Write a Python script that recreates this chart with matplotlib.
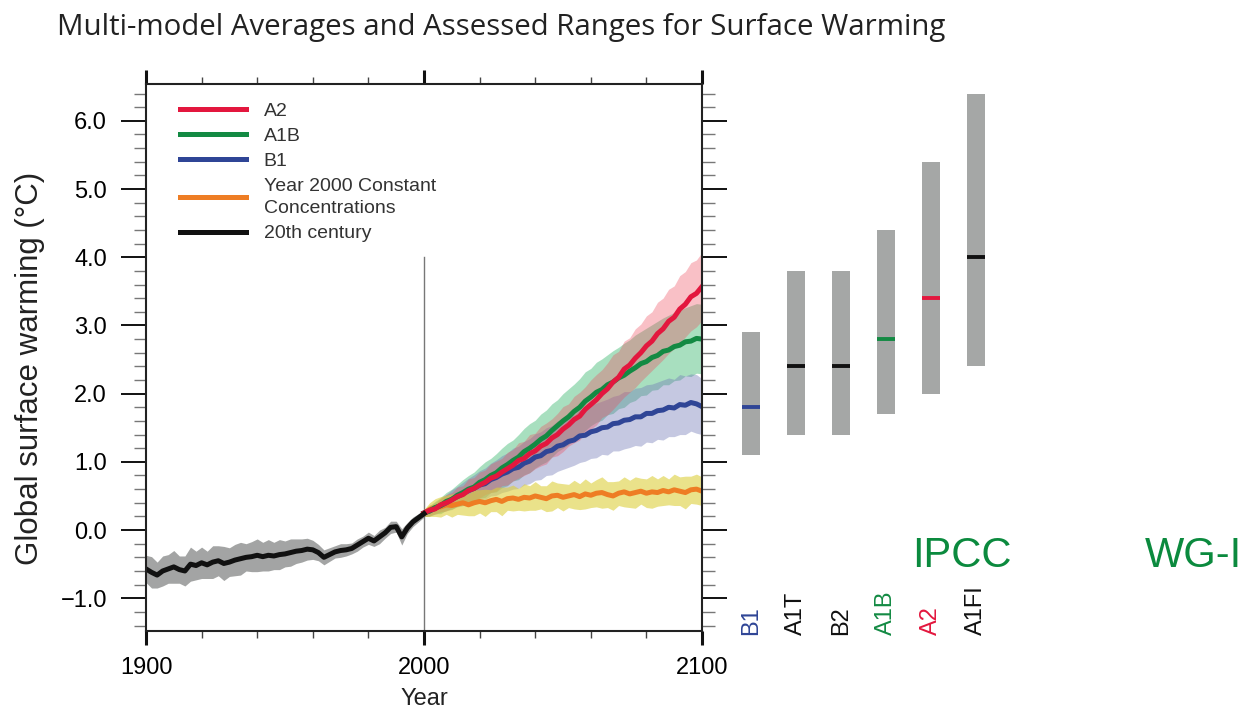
import numpy as np
import matplotlib
matplotlib.use("Agg")
import matplotlib.pyplot as plt
from matplotlib.ticker import MultipleLocator, FuncFormatter
import matplotlib.transforms as mtransforms

plt.rcParams['font.family'] = ['Liberation Sans', 'DejaVu Sans']

# ---- 20th century (every 2 years) ----
hist_years = list(range(1900, 2001, 2))
hist_mean = [-0.57, -0.62, -0.66, -0.60, -0.57, -0.54, -0.58, -0.60, -0.50, -0.52,
             -0.48, -0.51, -0.47, -0.45, -0.49, -0.47, -0.44, -0.42, -0.40, -0.39,
             -0.37, -0.39, -0.37, -0.38, -0.36, -0.35, -0.33, -0.31, -0.30, -0.28,
             -0.29, -0.33, -0.40, -0.36, -0.32, -0.30, -0.29, -0.27, -0.22, -0.17,
             -0.12, -0.16, -0.10, -0.04, 0.04, 0.05, -0.10, 0.03, 0.12, 0.18, 0.24]
hist_spread = [0.20, 0.23, 0.19, 0.22, 0.21, 0.24, 0.20, 0.22, 0.25, 0.21,
               0.23, 0.20, 0.24, 0.22, 0.25, 0.21, 0.23, 0.24, 0.20, 0.22,
               0.24, 0.21, 0.23, 0.20, 0.22, 0.19, 0.20, 0.18, 0.17, 0.16,
               0.14, 0.12, 0.11, 0.10, 0.09, 0.10, 0.09, 0.08, 0.09, 0.08,
               0.09, 0.08, 0.10, 0.08, 0.09, 0.08, 0.12, 0.08, 0.07, 0.06, 0.05]

# ---- projections 2000-2100 (every 2 years) ----
proj_years = list(range(2000, 2101, 2))
a2_mean = [0.25, 0.29, 0.31, 0.37, 0.40, 0.44, 0.49, 0.52, 0.58, 0.61,
           0.66, 0.70, 0.76, 0.79, 0.85, 0.90, 0.95, 1.02, 1.05, 1.12,
           1.16, 1.23, 1.27, 1.35, 1.40, 1.48, 1.54, 1.62, 1.67, 1.77,
           1.84, 1.91, 2.00, 2.07, 2.17, 2.24, 2.36, 2.42, 2.52, 2.60,
           2.70, 2.77, 2.88, 2.95, 3.06, 3.12, 3.24, 3.31, 3.42, 3.47, 3.57]
a2_spread = [0.05, 0.08, 0.07, 0.10, 0.12, 0.11, 0.14, 0.13, 0.17, 0.16,
             0.19, 0.18, 0.21, 0.22, 0.20, 0.24, 0.23, 0.26, 0.25, 0.28,
             0.26, 0.29, 0.30, 0.28, 0.31, 0.33, 0.31, 0.34, 0.35, 0.33,
             0.36, 0.37, 0.35, 0.38, 0.40, 0.38, 0.41, 0.40, 0.43, 0.42,
             0.44, 0.43, 0.46, 0.45, 0.47, 0.46, 0.49, 0.48, 0.50, 0.49, 0.50]
a1b_mean = [0.25, 0.28, 0.33, 0.36, 0.42, 0.45, 0.51, 0.55, 0.60, 0.63,
            0.70, 0.74, 0.80, 0.84, 0.91, 0.96, 1.02, 1.07, 1.15, 1.20,
            1.26, 1.33, 1.38, 1.46, 1.53, 1.60, 1.66, 1.74, 1.80, 1.89,
            1.95, 2.02, 2.06, 2.13, 2.17, 2.23, 2.27, 2.33, 2.38, 2.44,
            2.47, 2.53, 2.56, 2.62, 2.64, 2.69, 2.71, 2.76, 2.77, 2.81, 2.80]
a1b_spread = [0.05, 0.08, 0.09, 0.12, 0.13, 0.15, 0.16, 0.19, 0.20, 0.22,
              0.23, 0.26, 0.25, 0.28, 0.29, 0.31, 0.30, 0.33, 0.34, 0.36,
              0.35, 0.37, 0.38, 0.39, 0.38, 0.40, 0.41, 0.40, 0.42, 0.43,
              0.42, 0.44, 0.45, 0.44, 0.46, 0.45, 0.47, 0.46, 0.48, 0.47,
              0.49, 0.48, 0.50, 0.49, 0.51, 0.50, 0.51, 0.50, 0.52, 0.51, 0.51]
b1_mean = [0.25, 0.28, 0.32, 0.36, 0.40, 0.45, 0.49, 0.53, 0.58, 0.61,
           0.66, 0.68, 0.74, 0.77, 0.82, 0.85, 0.90, 0.92, 0.98, 1.01,
           1.07, 1.09, 1.15, 1.17, 1.23, 1.25, 1.30, 1.32, 1.38, 1.39,
           1.44, 1.46, 1.50, 1.51, 1.56, 1.57, 1.61, 1.62, 1.66, 1.66,
           1.71, 1.71, 1.75, 1.76, 1.80, 1.79, 1.84, 1.83, 1.87, 1.85, 1.81]
b1_spread = [0.05, 0.07, 0.09, 0.10, 0.12, 0.14, 0.15, 0.17, 0.18, 0.20,
             0.21, 0.23, 0.24, 0.26, 0.27, 0.28, 0.30, 0.31, 0.32, 0.33,
             0.34, 0.35, 0.35, 0.36, 0.37, 0.36, 0.38, 0.37, 0.39, 0.38,
             0.39, 0.40, 0.39, 0.41, 0.40, 0.41, 0.42, 0.41, 0.42, 0.43,
             0.42, 0.43, 0.42, 0.44, 0.43, 0.42, 0.44, 0.43, 0.42, 0.43, 0.41]
const_mean = [0.25, 0.30, 0.33, 0.34, 0.37, 0.36, 0.38, 0.40, 0.37, 0.40,
              0.42, 0.40, 0.43, 0.45, 0.42, 0.46, 0.47, 0.45, 0.48, 0.47,
              0.50, 0.48, 0.46, 0.50, 0.51, 0.48, 0.50, 0.52, 0.49, 0.53,
              0.51, 0.54, 0.55, 0.52, 0.50, 0.54, 0.56, 0.53, 0.55, 0.57,
              0.54, 0.56, 0.55, 0.58, 0.56, 0.59, 0.57, 0.55, 0.59, 0.60, 0.57]
const_spread = [0.05, 0.10, 0.13, 0.15, 0.14, 0.17, 0.15, 0.18, 0.16, 0.19,
                0.17, 0.20, 0.16, 0.18, 0.21, 0.17, 0.19, 0.16, 0.20, 0.18,
                0.21, 0.17, 0.19, 0.22, 0.18, 0.20, 0.17, 0.21, 0.19, 0.22,
                0.18, 0.20, 0.23, 0.19, 0.21, 0.18, 0.22, 0.20, 0.23, 0.19,
                0.21, 0.24, 0.20, 0.22, 0.19, 0.23, 0.21, 0.24, 0.20, 0.22, 0.21]

# ---- assessed ranges at 2100 ----
bar_names = ['B1', 'A1T', 'B2', 'A1B', 'A2', 'A1FI']
bar_low = [1.1, 1.4, 1.4, 1.7, 2.0, 2.4]
bar_high = [2.9, 3.8, 3.8, 4.4, 5.4, 6.4]
bar_best = [1.8, 2.4, 2.4, 2.8, 3.4, 4.0]

RED = '#e3173e'
GREEN = '#138a43'
BLUE = '#2f4596'
ORANGE = '#ee7d24'
BLACK = '#111111'
bar_colors = [BLUE, BLACK, BLACK, GREEN, RED, BLACK]

W, H = 1254, 714
fig = plt.figure(figsize=(W / 100, H / 100), dpi=100)


def px(x0, y0, x1, y1):
    return [x0 / W, 1 - y1 / H, (x1 - x0) / W, (y1 - y0) / H]


ax = fig.add_axes(px(146, 84, 702, 631))
ylo, yhi = -1.48, 6.54


def band(years, mean, spread, color, alpha):
    m = np.array(mean)
    s = np.array(spread)
    ax.fill_between(years, m - s, m + s, color=color, alpha=alpha, lw=0)


band(hist_years, hist_mean, hist_spread, '#8c8e8d', 0.8)
band(proj_years, a1b_mean, a1b_spread, '#3fba73', 0.45)
band(proj_years, b1_mean, b1_spread, '#6f77b6', 0.40)
band(proj_years, a2_mean, a2_spread, '#ee4b5e', 0.35)
band(proj_years, const_mean, const_spread, '#dccf3c', 0.60)

ax.plot([2000, 2000], [ylo, 4.0], color='#777777', lw=1.0, zorder=1)

lw = 3.6
h_const, = ax.plot(proj_years, const_mean, color=ORANGE, lw=lw,
                   label='Year 2000 Constant\nConcentrations')
h_b1, = ax.plot(proj_years, b1_mean, color=BLUE, lw=lw, label='B1')
h_a1b, = ax.plot(proj_years, a1b_mean, color=GREEN, lw=lw, label='A1B')
h_a2, = ax.plot(proj_years, a2_mean, color=RED, lw=lw, label='A2')
h_hist, = ax.plot(hist_years, hist_mean, color=BLACK, lw=lw, label='20th century')

ax.set_xlim(1900, 2100)
ax.set_ylim(ylo, yhi)
ax.xaxis.set_major_locator(MultipleLocator(100))
ax.xaxis.set_minor_locator(MultipleLocator(20))
ax.yaxis.set_major_locator(MultipleLocator(1.0))
ax.yaxis.set_minor_locator(MultipleLocator(0.2))
ax.yaxis.set_major_formatter(FuncFormatter(lambda v, p: ('%.1f' % v).replace('-', '\u2212')))

ax.tick_params(axis='x', which='major', direction='out', length=10, width=2.2,
               top=True, bottom=True, labelsize=17, pad=9, color='#111111')
ax.tick_params(axis='x', which='minor', direction='out', length=5, width=1.0,
               top=True, bottom=True, color='#444444')
ax.tick_params(axis='y', which='major', direction='out', length=18, width=1.4,
               left=True, right=True, labelsize=17, pad=10, color='#111111')
ax.tick_params(axis='y', which='minor', direction='out', length=9, width=1.0,
               left=True, right=True, color='#777777')
for sp in ax.spines.values():
    sp.set_linewidth(1.5)
    sp.set_color('#222222')

ax.set_xlabel('Year', fontsize=17, labelpad=6, color='#222222')
fig.text(30 / W, 1 - 368 / H, 'Global surface warming (°C)', rotation=90,
         fontsize=22.5, ha='center', va='center', color='#222222')

leg = ax.legend(handles=[h_a2, h_a1b, h_b1, h_const, h_hist], loc='upper left',
                bbox_to_anchor=(0.03, 0.998), frameon=False, fontsize=14,
                handlelength=3.4, handletextpad=0.9, labelspacing=0.38)
for t in leg.get_texts():
    t.set_color('#333333')
    t.set_linespacing(1.45)

# ---- right panel: assessed ranges ----
ax2 = fig.add_axes(px(720, 84, 1000, 631))
ax2.set_ylim(ylo, yhi)
x0 = -31 / 45
ax2.set_xlim(x0, x0 + 280 / 45)
ax2.axis('off')
xs = np.arange(len(bar_names))
ax2.bar(xs, np.array(bar_high) - np.array(bar_low), bottom=bar_low,
        width=0.4, color='#a5a7a6', lw=0)
for i in range(len(bar_names)):
    ax2.plot([xs[i] - 0.2, xs[i] + 0.2], [bar_best[i], bar_best[i]],
             color=bar_colors[i], lw=2.8, solid_capstyle='butt')
    ax2.text(xs[i], -0.007, bar_names[i], rotation=90, ha='center', va='bottom',
             fontsize=17, color=bar_colors[i],
             transform=mtransforms.blended_transform_factory(ax2.transData, ax2.transAxes))

fig.text(912 / W, 1 - 567 / H, 'IPCC', fontsize=30, color='#0b8a3e', va='baseline')
fig.text(1145 / W, 1 - 567 / H, 'WG-I', fontsize=30, color='#0b8a3e', va='baseline')

fig.text(57 / W, 1 - 35 / H, 'Multi-model Averages and Assessed Ranges for Surface Warming',
         fontsize=21.2, family=['Open Sans', 'DejaVu Sans'], color='#222222', va='baseline')

fig.savefig('out.png', dpi=100)
